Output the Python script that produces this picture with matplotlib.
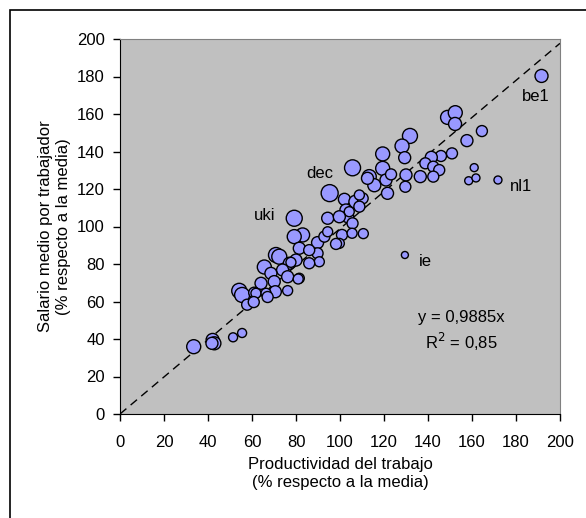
import matplotlib
matplotlib.use('Agg')
import matplotlib.pyplot as plt
from matplotlib.patches import Rectangle

plt.rcParams['font.family'] = ['Liberation Sans', 'DejaVu Sans']

# Datos: productividad (x), salario (y), tamaño de burbuja (radio en px)
productividad = [191.6, 148.9, 152.4, 152.3, 164.5, 157.7, 131.8, 128.2, 119.4, 129.4,
                 150.9, 145.9, 141.5, 138.8, 142.4, 145.1, 136.5, 142.4, 130.0, 129.7,
                 161.0, 158.5, 161.8, 171.8, 105.7, 113.3, 119.4, 115.6, 120.9, 121.6,
                 123.2, 102.0, 107.0, 110.3, 108.8, 102.7, 103.5, 108.8, 104.2, 105.7,
                 100.9, 105.5, 110.6, 99.7, 129.5, 79.2, 94.4, 95.3, 112.5, 83.0,
                 79.2, 89.8, 92.9, 94.4, 98.2, 81.5, 89.8, 90.6, 70.9, 72.4,
                 77.0, 80.0, 86.0, 65.6, 73.9, 76.2, 81.5, 68.6, 70.1, 64.1,
                 54.2, 55.5, 61.0, 61.8, 70.6, 76.2, 66.4, 67.1, 57.8, 60.8,
                 33.5, 42.1, 42.9, 41.8, 51.4, 55.5, 81.0, 77.7, 99.7, 86.0]
salario = [180.3, 158.2, 160.7, 154.7, 150.9, 145.8, 148.3, 142.9, 138.7, 136.7,
           139.0, 137.6, 136.9, 133.7, 131.9, 130.1, 126.6, 126.6, 127.5, 121.2,
           131.4, 124.4, 125.9, 124.8, 131.3, 126.6, 131.0, 122.0, 124.8, 117.7,
           127.8, 114.5, 113.2, 115.0, 116.8, 108.8, 105.2, 110.6, 107.9, 101.7,
           95.5, 96.4, 96.2, 91.0, 84.8, 104.4, 104.4, 117.8, 125.7, 95.5,
           94.6, 91.4, 94.6, 97.2, 90.7, 88.4, 85.7, 81.2, 84.8, 83.9,
           80.4, 82.1, 80.4, 78.4, 76.8, 73.2, 72.4, 75.0, 70.6, 69.7,
           65.7, 63.5, 64.7, 64.4, 65.2, 65.8, 64.4, 62.4, 58.3, 59.7,
           35.9, 39.5, 37.7, 37.7, 40.9, 43.2, 72.0, 80.9, 105.2, 87.4]
radio = [6.5, 7, 7, 6.5, 5.5, 6, 7.5, 7, 7, 6,
         5.5, 5.5, 6, 5.5, 5.5, 5.5, 6, 5.5, 6, 5.5,
         4, 4, 4, 4, 8, 7, 7, 6.5, 6, 6,
         5.5, 6, 6.5, 5.5, 5, 6, 6, 5.5, 5, 5.5,
         5.5, 5, 5, 5, 3.5, 8, 6, 8.5, 6, 7,
         7, 6, 5.5, 5, 5.5, 6, 5.5, 5, 7.5, 7.5,
         6, 6, 5.5, 7, 6, 6, 5, 6, 6, 6,
         7.5, 7.5, 5.5, 5, 6, 5, 5, 5.5, 5.5, 5.5,
         7, 6.5, 6.5, 6, 4.5, 4.5, 5, 5, 6, 5.5]

etiquetas = ['be1', 'nl1', 'ie', 'dec', 'uki']
etiq_x = [182.5, 177.3, 136.0, 84.5, 61.0]
etiq_y = [169.5, 121.2, 81.2, 128.4, 106.1]

pendiente = 0.9885
ticks = list(range(0, 201, 20))

fig = plt.figure(figsize=(5.86, 5.18), dpi=100)
# marco exterior
fig.patches.append(Rectangle((10 / 586, -0.2), 1.2, 1 - 10 / 518 + 0.2,
                             transform=fig.transFigure, fill=False,
                             edgecolor='black', linewidth=1.2))

ax = fig.add_axes([120 / 586, 1 - 414 / 518, 440 / 586, 375 / 518])
ax.set_facecolor('#c0c0c0')

tamanos = [(1.44 * r) ** 2 for r in radio]
ax.scatter(productividad, salario, s=tamanos, c='#9999ff', edgecolors='black',
           linewidths=1.0, zorder=3)
ax.plot([0, 200], [0, 200 * pendiente], color='black', linestyle=(0, (6, 4)),
        linewidth=1.0, zorder=2)

for t, tx, ty in zip(etiquetas, etiq_x, etiq_y):
    ax.text(tx, ty, t, fontsize=12, ha='left', va='center', zorder=4)

ax.text(155, 51.6, 'y = 0,9885x', fontsize=12, ha='center', va='center')
ax.text(155.3, 38.6, 'R$^2$ = 0,85', fontsize=12, ha='center', va='center')

ax.set_xlim(0, 200)
ax.set_ylim(0, 200)
ax.set_xticks(ticks)
ax.set_yticks(ticks)
ax.tick_params(labelsize=12, length=5, width=1, direction='out')
ax.tick_params(axis='x', pad=10)
ax.tick_params(axis='y', pad=6)
for lado in ['top', 'right']:
    ax.spines[lado].set_color('#808080')
for lado in ['left', 'bottom']:
    ax.spines[lado].set_color('black')

ax.set_xlabel('Productividad del trabajo\n(% respecto a la media)', fontsize=12,
              labelpad=5, linespacing=1.25)
ax.set_ylabel('Salario medio por trabajador\n(% respecto a la media)', fontsize=12,
              labelpad=4, linespacing=1.25)

fig.savefig('out.png', dpi=100)
